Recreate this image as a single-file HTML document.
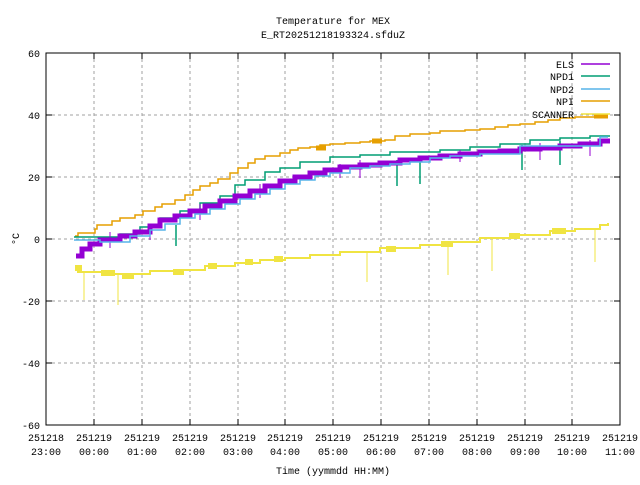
<!DOCTYPE html>
<html><head><style>
body{margin:0;background:#fff}
svg text{font-family:"Liberation Mono","DejaVu Sans Mono",monospace;font-size:10px;fill:#000}
</style></head><body>
<svg width="640" height="480" xmlns="http://www.w3.org/2000/svg">
<rect width="640" height="480" fill="#fff"/>
<g stroke="#a0a0a0" stroke-dasharray="3,3" stroke-width="1">
<line x1="46" y1="115" x2="620" y2="115"/><line x1="46" y1="177" x2="620" y2="177"/>
<line x1="46" y1="239" x2="620" y2="239"/><line x1="46" y1="301" x2="620" y2="301"/>
<line x1="46" y1="363" x2="620" y2="363"/>
<line x1="94" y1="53" x2="94" y2="425"/><line x1="142" y1="53" x2="142" y2="425"/>
<line x1="190" y1="53" x2="190" y2="425"/><line x1="238" y1="53" x2="238" y2="425"/>
<line x1="285" y1="53" x2="285" y2="425"/><line x1="333" y1="53" x2="333" y2="425"/>
<line x1="381" y1="53" x2="381" y2="425"/><line x1="429" y1="53" x2="429" y2="425"/>
<line x1="477" y1="53" x2="477" y2="425"/><line x1="525" y1="53" x2="525" y2="425"/>
<line x1="572" y1="53" x2="572" y2="425"/>
</g>
<g fill="none" stroke="#f0e442">
<polyline stroke-width="2" points="75,268 78,268 78,272 110,272 110,274 150,274 150,271 175,271 175,270 205,270 205,266 235,266 235,263 260,263 260,260 285,260 285,258 310,258 310,255 340,255 340,252 380,252 380,248 420,248 420,245 445,245 445,242 480,242 480,238 510,238 510,235 550,235 550,231 575,231 575,229 600,229 600,225 608,225 608,223"/>
<path stroke-width="1" d="M84,272V300M118,274V305M367,252V282M448,245V275M492,238V271M595,229V262"/>
<path stroke-width="6" d="M75,268H82M101,273H115M122,276H134M173,272H184M208,266H217M245,262H253M274,259H283M386,249H396M441,244H453M509,236H520M552,231H566"/>
</g>
<polyline fill="none" stroke="#e69f00" stroke-width="1.5" points="75,236 78,236 78,233 95,233 95,229 97,229 97,225 112,225 112,221 120,221 120,218 135,218 135,215 143,215 143,211 155,211 155,207 162,207 162,204 175,204 175,200 185,200 185,195 193,195 193,190 200,190 200,186 210,186 210,183 218,183 218,179 230,179 230,173 238,173 238,168 248,168 248,163 255,163 255,159 265,159 265,156 280,156 280,153 290,153 290,150 298,150 298,148 310,148 310,147 320,147 320,145 330,145 330,144 345,144 345,143 360,143 360,142 370,142 370,141 385,141 385,140 395,140 395,136 410,136 410,134 430,134 430,133 440,133 440,131 465,131 465,130 480,130 480,129 495,129 495,127 508,127 508,125 520,125 520,124 535,124 535,122 548,122 548,120 560,120 560,118 575,118 575,117 608,117"/>
<path stroke="#e69f00" stroke-width="5" d="M316,148H326M372,141H382M594,116H608"/>
<polyline fill="none" stroke="#009e73" stroke-width="1.5" points="74,237 120,237 120,234 140,234 140,227 160,227 160,218 180,218 180,211 200,211 200,203 220,203 220,196 235,196 235,185 245,185 245,180 265,180 265,172 280,172 280,168 300,168 300,162 330,162 330,157 360,157 360,155 390,155 390,152 440,152 440,150 470,150 470,147 500,147 500,144 530,144 530,140 560,140 560,138 590,138 590,136 610,136"/>
<path stroke="#009e73" stroke-width="1.5" d="M176,225V246M397,160V186M420,158V184M522,145V170M560,141V165"/>
<polyline fill="none" stroke="#9400d3" stroke-width="5" points="76,256 82,256 82,249 90,249 90,244 100,244 100,240 120,240 120,236 135,236 135,232 150,232 150,226 160,226 160,220 175,220 175,216 190,216 190,211 205,211 205,206 220,206 220,201 235,201 235,196 250,196 250,191 265,191 265,186 280,186 280,181 295,181 295,177 310,177 310,173 325,173 325,170 340,170 340,167 360,167 360,165 380,165 380,163 400,163 400,160 420,160 420,158 440,158 440,156 460,156 460,154 480,154 480,152 500,152 500,151 520,151 520,149 540,149 540,148 560,148 560,146 580,146 580,144 600,144 600,141 610,141"/>
<path stroke="#9400d3" stroke-width="1" d="M110,232V248M150,228V240M200,204V220M260,184V198M340,164V178M360,160V178M460,150V162M540,143V160M590,140V156"/>
<polyline fill="none" stroke="#56b4e9" stroke-width="1.5" points="74,240 100,240 100,242 130,242 130,236 150,236 150,230 165,230 165,224 180,224 180,218 195,218 195,214 210,214 210,209 225,209 225,204 240,204 240,199 255,199 255,194 270,194 270,189 285,189 285,184 300,184 300,180 315,180 315,176 330,176 330,173 350,173 350,168 370,168 370,166 390,166 390,164 410,164 410,162 430,162 430,158 450,158 450,156 480,156 480,154 520,154 520,146 600,146 600,137 608,137"/>
<rect x="46" y="53" width="574" height="372" fill="none" stroke="#000" stroke-width="1"/>
<g stroke="#000">
<path d="M46,53h6M46,115h6M46,177h6M46,239h6M46,301h6M46,363h6M46,425h6M620,53h-6M620,115h-6M620,177h-6M620,239h-6M620,301h-6M620,363h-6M620,425h-6"/>
<path d="M46,425v-6M94,425v-6M142,425v-6M190,425v-6M238,425v-6M285,425v-6M333,425v-6M381,425v-6M429,425v-6M477,425v-6M525,425v-6M572,425v-6M620,425v-6M46,53v6M94,53v6M142,53v6M190,53v6M238,53v6M285,53v6M333,53v6M381,53v6M429,53v6M477,53v6M525,53v6M572,53v6M620,53v6"/>
</g>
<g text-anchor="end">
<text x="40" y="57">60</text><text x="40" y="119">40</text><text x="40" y="181">20</text>
<text x="40" y="243">0</text><text x="40" y="305">-20</text><text x="40" y="367">-40</text><text x="40" y="429">-60</text>
</g>
<g text-anchor="middle">
<text x="46" y="441">251218</text><text x="46" y="455">23:00</text>
<text x="94" y="441">251219</text><text x="94" y="455">00:00</text>
<text x="142" y="441">251219</text><text x="142" y="455">01:00</text>
<text x="190" y="441">251219</text><text x="190" y="455">02:00</text>
<text x="238" y="441">251219</text><text x="238" y="455">03:00</text>
<text x="285" y="441">251219</text><text x="285" y="455">04:00</text>
<text x="333" y="441">251219</text><text x="333" y="455">05:00</text>
<text x="381" y="441">251219</text><text x="381" y="455">06:00</text>
<text x="429" y="441">251219</text><text x="429" y="455">07:00</text>
<text x="477" y="441">251219</text><text x="477" y="455">08:00</text>
<text x="525" y="441">251219</text><text x="525" y="455">09:00</text>
<text x="572" y="441">251219</text><text x="572" y="455">10:00</text>
<text x="620" y="441">251219</text><text x="620" y="455">11:00</text>
<text x="333" y="474">Time (yymmdd HH:MM)</text>
<text x="333" y="24">Temperature for MEX</text>
<text x="333" y="38">E_RT20251218193324.sfduZ</text>
</g>
<text x="15" y="243" text-anchor="middle" transform="rotate(-90 15 239)">°C</text>
<g text-anchor="end">
<text x="574" y="68">ELS</text><text x="574" y="80">NPD1</text><text x="574" y="93">NPD2</text>
<text x="574" y="105">NPI</text><text x="574" y="118">SCANNER</text>
</g>
<g stroke-width="1.5">
<line x1="581" y1="64" x2="610" y2="64" stroke="#9400d3"/>
<line x1="581" y1="76" x2="610" y2="76" stroke="#009e73"/>
<line x1="581" y1="89" x2="610" y2="89" stroke="#56b4e9"/>
<line x1="581" y1="101" x2="610" y2="101" stroke="#e69f00"/>
<line x1="581" y1="114" x2="610" y2="114" stroke="#f0e442"/>
</g>
</svg>
</body></html>
